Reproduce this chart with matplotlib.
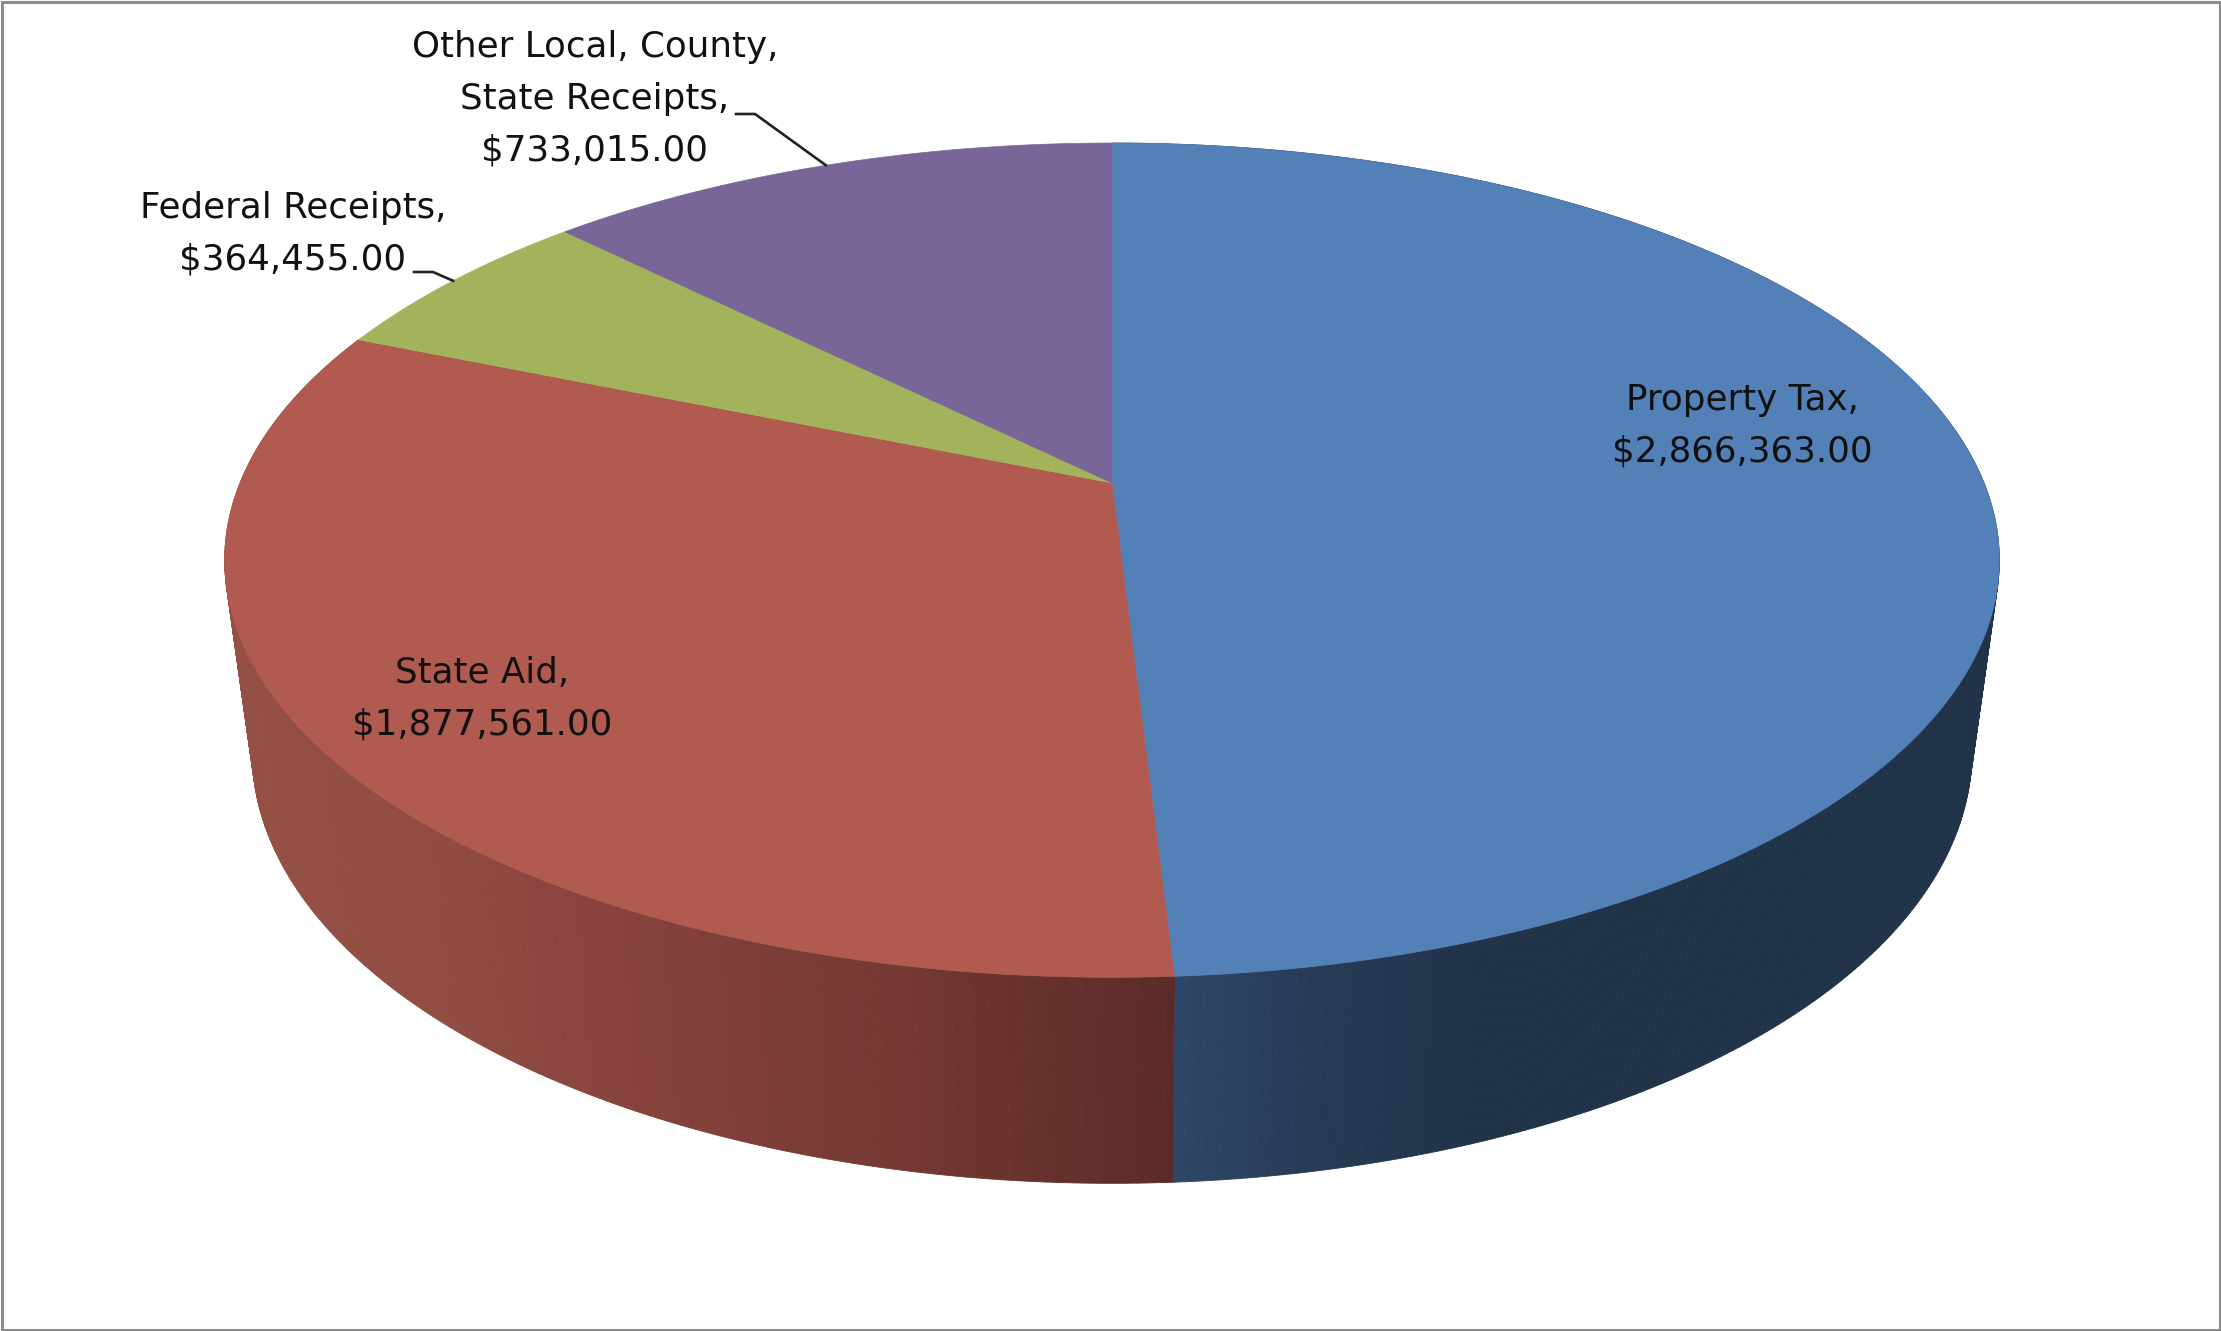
import numpy as np
import matplotlib.pyplot as plt
from matplotlib.collections import PolyCollection
from matplotlib.patches import Polygon, Rectangle

# data, clockwise from 12 o'clock
categories = ["Property Tax", "State Aid", "Federal Receipts", "Other Local, County,\nState Receipts"]
values = [2866363.00, 1877561.00, 364455.00, 733015.00]

top_colors = ["#5480b8", "#b05a50", "#a2b35c", "#786699"]

# side shading, depends on x position on the picture
red_x = [220, 450, 650, 880, 1050, 1173]
red_c = [(0.585, 0.315, 0.275), (0.565, 0.295, 0.26), (0.52, 0.255, 0.23),
         (0.46, 0.225, 0.20), (0.40, 0.19, 0.175), (0.36, 0.17, 0.16)]
blue_x = [1173, 1300, 1480, 1980]
blue_c = [(0.18, 0.28, 0.41), (0.155, 0.235, 0.345), (0.128, 0.2, 0.287), (0.128, 0.2, 0.287)]

W, H = 2221, 1331
cx, apex_y = 1112, 483
rx = 872
k = 0.185
q = -313.5
cy_ell = 560
scale_bx = 0.969
scale_by = 431 / 417
cy_bottom = 752


def top_rim(theta):
    # theta in degrees, clockwise from the top
    t = np.radians(theta)
    X, Y = np.sin(t), np.cos(t)
    d = 1 + k * Y
    return cx + rx * X / d, (apex_y + q * Y) / d


def bottom_rim(theta):
    x, y = top_rim(theta)
    return cx + scale_bx * (x - cx), cy_bottom + scale_by * (y - cy_ell)


def side_color(x, xs, cs):
    return tuple(np.interp(x, xs, [c[i] for c in cs]) for i in range(3))


fig = plt.figure(figsize=(W / 100, H / 100), dpi=100)
ax = fig.add_axes([0, 0, 1, 1])
ax.set_xlim(0, W)
ax.set_ylim(H, 0)
ax.axis("off")

edges = np.concatenate([[0], np.cumsum(values) / np.sum(values) * 360])

# walls
for i, (xs, cs) in enumerate([(blue_x, blue_c), (red_x, red_c)]):
    thetas = np.arange(edges[i], edges[i + 1], 0.5)
    thetas = np.append(thetas, edges[i + 1])
    polys, cols = [], []
    for a, b in zip(thetas[:-1], thetas[1:]):
        x1, y1 = top_rim(a)
        x2, y2 = top_rim(b)
        x3, y3 = bottom_rim(b)
        x4, y4 = bottom_rim(a)
        polys.append([(x1, y1), (x2, y2), (x3, y3), (x4, y4)])
        cols.append(side_color((x1 + x2) / 2, xs, cs))
    ax.add_collection(PolyCollection(polys, facecolors=cols, edgecolors=cols, linewidths=0.6, zorder=2))

# top face
for i in range(len(values)):
    th = np.linspace(edges[i], edges[i + 1], 300)
    xr, yr = top_rim(th)
    pts = [(cx, apex_y)] + list(zip(xr, yr))
    ax.add_patch(Polygon(pts, closed=True, facecolor=top_colors[i], edgecolor=top_colors[i], linewidth=0.5, zorder=3))

# labels
label_pos = [(1742, 426), (482, 699), (293, 234), (595, 99)]
for name, v, pos in zip(categories, values, label_pos):
    ax.text(pos[0], pos[1], f"{name},\n${v:,.2f}", ha="center", va="center",
            fontsize=25.7, color="#111111", family="DejaVu Sans", linespacing=1.65, zorder=5)

# leader lines go to the middle of the small slices
mx, my = top_rim((edges[2] + edges[3]) / 2)
ax.plot([414, 433, mx], [272, 272, my], color="#222222", lw=1.9, zorder=4)
mx, my = top_rim((edges[3] + edges[4]) / 2)
ax.plot([736, 755, mx], [114, 114, my], color="#222222", lw=1.9, zorder=4)

ax.add_patch(Rectangle((1.5, 2), W - 3, H - 3.5, fill=False, edgecolor="#8c8c8c", linewidth=2.2, zorder=6))

fig.savefig("out.png", dpi=100)
